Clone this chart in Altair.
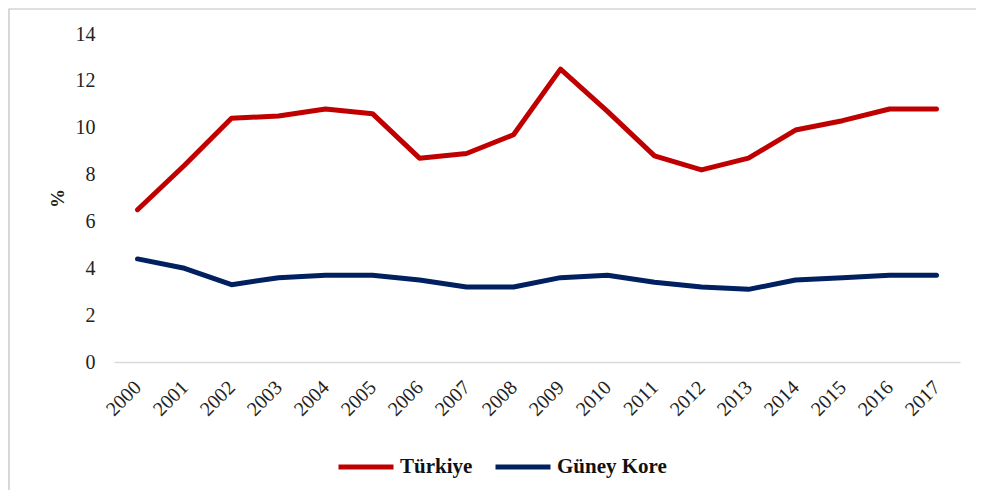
import altair as alt
import pandas as pd

years = [str(y) for y in range(2000, 2018)]
turkiye = [6.5, 8.4, 10.4, 10.5, 10.8, 10.6, 8.7, 8.9, 9.7, 12.5, 10.7, 8.8, 8.2, 8.7, 9.9, 10.3, 10.8, 10.8]
guney_kore = [4.4, 4.0, 3.3, 3.6, 3.7, 3.7, 3.5, 3.2, 3.2, 3.6, 3.7, 3.4, 3.2, 3.1, 3.5, 3.6, 3.7, 3.7]
series_names = ["Türkiye", "Güney Kore"]
series_colors = ["#C00000", "#002060"]

rows = []
for i, y in enumerate(years):
    rows.append({"Yıl": y, "Seri": series_names[0], "Değer": turkiye[i]})
    rows.append({"Yıl": y, "Seri": series_names[1], "Değer": guney_kore[i]})
df = pd.DataFrame(rows)

FONT = "Liberation Serif, Times New Roman, serif"

border = alt.Chart(pd.DataFrame({"a": [0]})).mark_rect(
    fill=None, stroke="#bfbfbf", strokeWidth=1.2
).encode(
    x=alt.value(-105), x2=alt.value(863), y=alt.value(-25), y2=alt.value(463)
)

lines = alt.Chart(df).mark_line(strokeWidth=5, strokeCap="round", strokeJoin="round").encode(
    x=alt.X("Yıl:O", sort=years, scale=alt.Scale(type="point", padding=0.5),
            axis=alt.Axis(title=None, labelAngle=-45, labelAlign="right", labelBaseline="middle",
                          labelPadding=22, ticks=False, domainColor="#d9d9d9", domainWidth=1.5,
                          labelFontSize=20, labelFont=FONT, labelColor="#222")),
    y=alt.Y("Değer:Q", scale=alt.Scale(domain=[0, 14]),
            axis=alt.Axis(title="%", values=[0, 2, 4, 6, 8, 10, 12, 14], grid=False, domain=False,
                          ticks=False, labelPadding=19, labelFontSize=20, labelFont=FONT,
                          labelColor="#222", titleFont=FONT, titleFontSize=19, titleFontWeight="bold",
                          titleColor="#222", titlePadding=8)),
    color=alt.Color("Seri:N", sort=series_names,
                    scale=alt.Scale(domain=series_names, range=series_colors),
                    legend=alt.Legend(title=None, orient="none", legendX=222, legendY=403,
                                      direction="horizontal", symbolType="stroke", symbolSize=3025,
                                      symbolStrokeWidth=5, labelFont=FONT, labelFontSize=21,
                                      labelFontWeight="bold", labelColor="#111", labelOffset=4,
                                      columnPadding=12)),
    order=alt.Order("Yıl:O")
)

chart = alt.layer(border, lines).properties(
    width=846, height=328,
    autosize=alt.AutoSizeParams(type="none"),
    padding={"left": 106, "top": 26, "right": 16, "bottom": 128},
    background="white"
).configure_view(stroke=None)

chart.save("out.html", embed_options={"renderer": "svg", "actions": False})
